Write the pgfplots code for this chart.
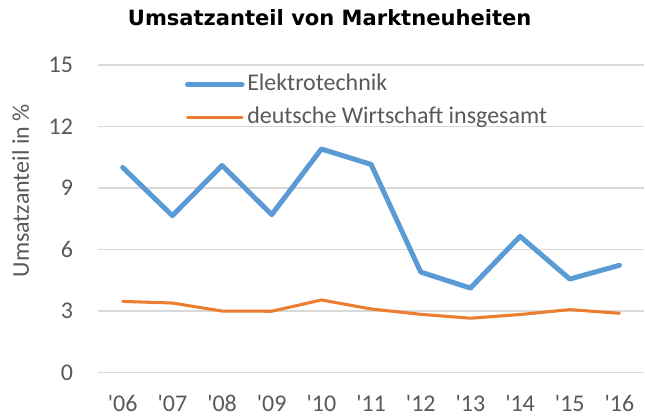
\documentclass[border=0pt]{standalone}
\usepackage{fontspec}
\setmainfont{Carlito}
\newfontfamily\titlefont{DejaVu Sans}
\usepackage{pgfplots}
\pgfplotsset{compat=1.18}
\definecolor{eblue}{HTML}{5B9BD5}
\definecolor{dorange}{HTML}{ED7D31}
\definecolor{gridgray}{HTML}{D9D9D9}
\definecolor{txt}{HTML}{595959}
\begin{document}
\begin{tikzpicture}
\begin{axis}[
  at={(0,0)}, anchor=south west,
  scale only axis, width=410.25pt, height=231pt,
  xmin=-0.5, xmax=10.5, ymin=0, ymax=15,
  axis line style={draw=none},
  major tick length=0pt,
  ytick={0,3,6,9,12,15},
  xtick={0,...,10},
  xticklabels={\textquotesingle06,\textquotesingle07,\textquotesingle08,\textquotesingle09,\textquotesingle10,\textquotesingle11,\textquotesingle12,\textquotesingle13,\textquotesingle14,\textquotesingle15,\textquotesingle16},
  ymajorgrids,
  grid style={gridgray, line width=1.1pt},
  /pgf/number format/assume math mode=true,
  tick label style={font=\fontsize{18}{20}\selectfont, text=txt, inner sep=0pt},
  yticklabel style={anchor=east, xshift=-18.5pt},
  xticklabel style={anchor=base, yshift=-29pt},
  clip=false,
  legend style={draw=none, fill=none, inner sep=0pt, at={(rel axis cs:0.159,0.975)}, anchor=north west,
    font=\fontsize{18}{20}\selectfont, text=txt, row sep=7.5pt, column sep=2pt,
    nodes={inner sep=0pt, text height=13pt, text depth=4.5pt}},
  legend cell align=left,
  legend image code/.code={\draw[#1] (0pt,0pt) -- (41pt,0pt);},
]
\addplot[eblue, line width=3.75pt, line join=round, line cap=round] coordinates {
(0,10.0) (1,7.65) (2,10.1) (3,7.7) (4,10.9) (5,10.15) (6,4.9) (7,4.12) (8,6.64) (9,4.56) (10,5.23)};
\addlegendentry{Elektrotechnik}
\addplot[dorange, line width=2.3pt, line join=round, line cap=round] coordinates {
(0,3.47) (1,3.39) (2,3.0) (3,2.99) (4,3.54) (5,3.1) (6,2.84) (7,2.65) (8,2.83) (9,3.07) (10,2.89)};
\addlegendentry{deutsche Wirtschaft insgesamt}
\end{axis}
\node[font=\titlefont\bfseries\fontsize{15.8}{18}\selectfont, text=black, inner sep=0pt] at (174pt,266.6pt) {Umsatzanteil von Marktneuheiten};
\node[rotate=90, font=\fontsize{18}{20}\selectfont, text=txt, inner sep=0pt] at (-58pt,136.5pt) {Umsatzanteil in \%};
\path[use as bounding box] (-73.5pt,-32.25pt) rectangle (410.25pt,279.75pt);
\end{tikzpicture}
\end{document}
